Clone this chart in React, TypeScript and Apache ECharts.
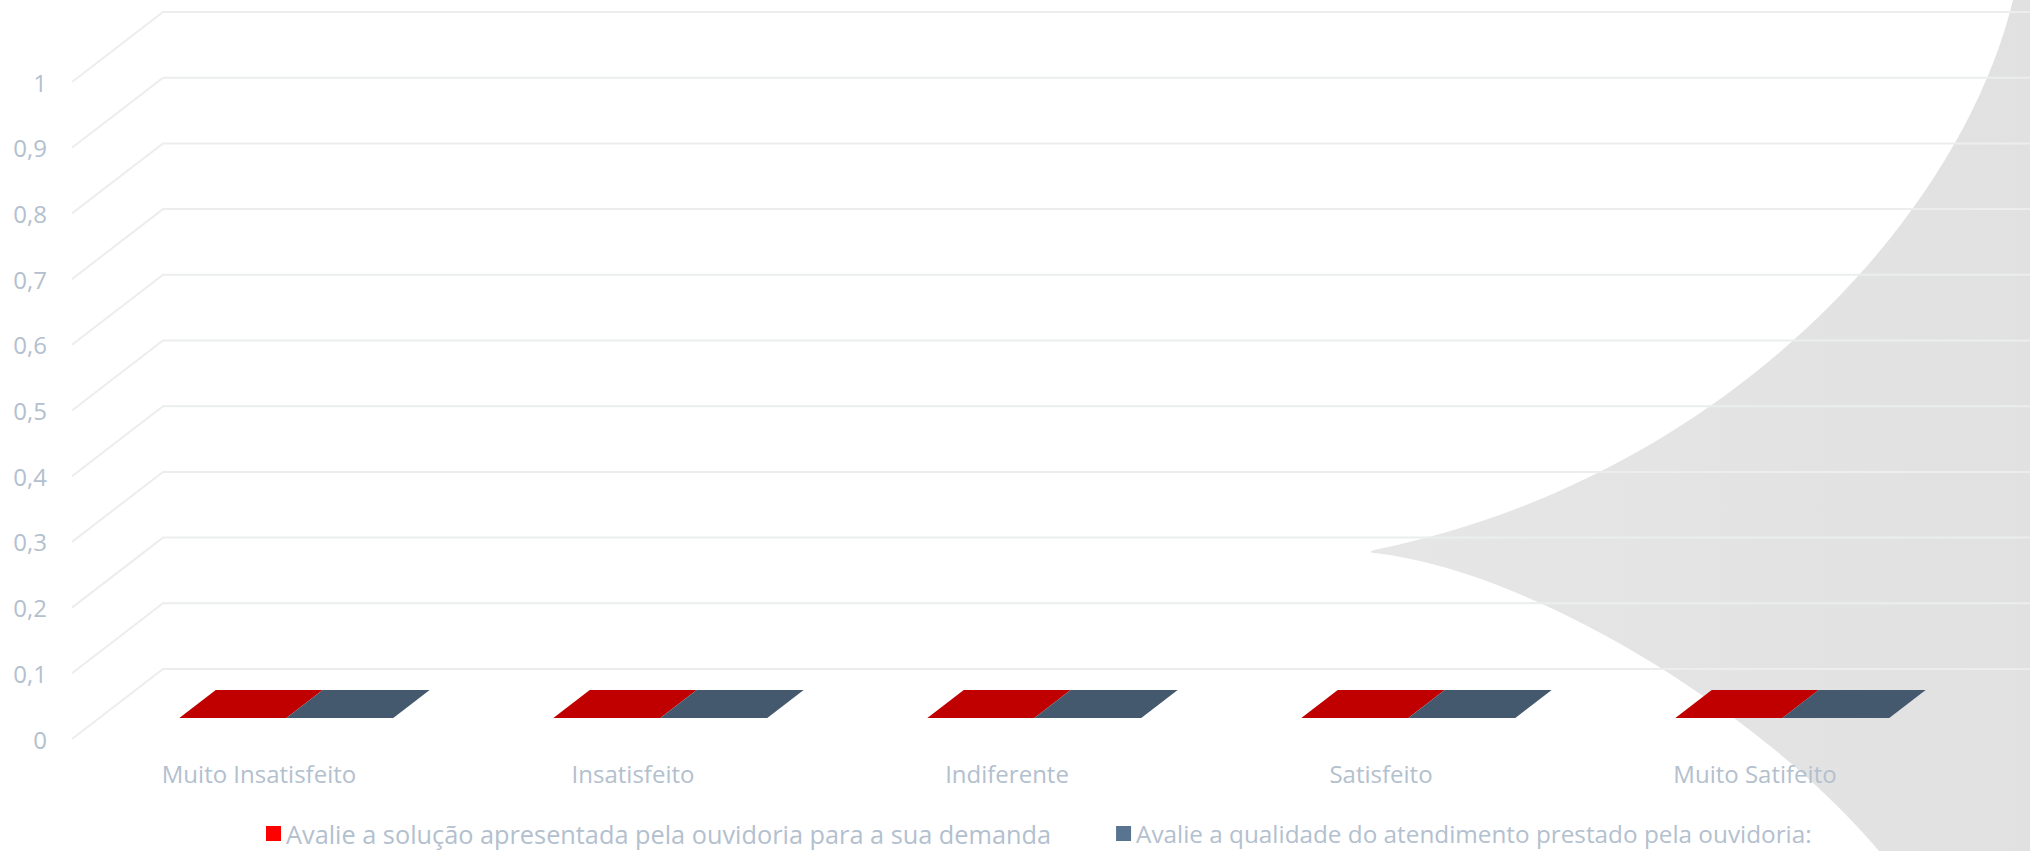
import React, { useEffect, useRef } from "react";
import * as echarts from "echarts";

// ---- data ----
const categories = ["Muito Insatisfeito", "Insatisfeito", "Indiferente", "Satisfeito", "Muito Satifeito"];
const seriesNames = [
  "Avalie a solução apresentada pela ouvidoria para a sua demanda",
  "Avalie a qualidade do atendimento prestado pela ouvidoria:",
];
const solucaoValues = [0, 0, 0, 0, 0];
const qualidadeValues = [0, 0, 0, 0, 0];
const yTicks = [0, 0.1, 0.2, 0.3, 0.4, 0.5, 0.6, 0.7, 0.8, 0.9, 1];

// ---- styling / layout ----
const FONT = "Open Sans";
const TEXT_COLOR = "#B3C0CE";
const GRID_COLOR = "#ECEDEE";
const DX = 91; // depth offset (3D look)
const DY = -70;
const D0 = 0.3;
const D1 = 0.7;
const BAR_FRAC = 0.286;
const BAR_COLORS = ["#C00000", "#44596D"];
const SIDE_COLORS = ["#900000", "#33434F"];
const LEGEND_COLORS = ["#FF0000", "#587490"];
const LEGEND_FONT_SIZES = [25.3, 24.3];

const shapePath =
  "M2013,0 C1960,220 1720,480 1374,550 C1370,551 1370,553 1374,553 C1530,570 1760,710 1879,851 L2030,851 L2030,0 Z";
echarts.graphic.registerShape("decoShape", (echarts.graphic as any).extendPath(shapePath, {}));

function makeBarRender(idx: number) {
  return (params: any, api: any) => {
    const cat = api.value(0);
    const val = api.value(1);
    const base = api.coord([cat, 0]);
    const top = api.coord([cat, val]);
    const band = api.size([1, 0])[0];
    const w = band * BAR_FRAC;
    const xL = base[0] + (idx === 0 ? -w : 0);
    const xR = xL + w;
    const yB = base[1];
    const yT = top[1];
    const p = (x: number, y: number, d: number) => [x + d * DX, y + d * DY];
    return {
      type: "group",
      children: [
        {
          type: "polygon",
          shape: { points: [p(xL, yT, D0), p(xR, yT, D0), p(xR, yB, D0), p(xL, yB, D0)] },
          style: { fill: BAR_COLORS[idx] },
        },
        {
          type: "polygon",
          shape: { points: [p(xR, yT, D0), p(xR, yT, D1), p(xR, yB, D1), p(xR, yB, D0)] },
          style: { fill: SIDE_COLORS[idx] },
        },
        {
          type: "polygon",
          shape: { points: [p(xL, yT, D0), p(xR, yT, D0), p(xR, yT, D1), p(xL, yT, D1)] },
          style: { fill: BAR_COLORS[idx] },
        },
      ],
    };
  };
}

export default function App() {
  const ref = useRef<HTMLDivElement>(null);
  useEffect(() => {
    document.body.style.margin = "0";
    const chart = echarts.init(ref.current!, null, { renderer: "svg" });
    const option: any = {
      animation: false,
      backgroundColor: "#FFFFFF",
      graphic: [
        {
          type: "decoShape",
          x: 0,
          y: 0,
          z: -10,
          silent: true,
          style: {
            fill: new echarts.graphic.LinearGradient(0, 0, 1, 0, [
              { offset: 0, color: "#E6E6E6" },
              { offset: 1, color: "#E1E1E1" },
            ]),
          },
        },
      ],
      grid: { left: 72, top: 82, width: 1870, height: 657 },
      legend: {
        data: seriesNames.map((n, i) => ({
          name: n,
          itemStyle: { color: LEGEND_COLORS[i] },
          textStyle: { fontSize: LEGEND_FONT_SIZES[i] },
        })),
        left: 261,
        top: 816,
        icon: "rect",
        itemWidth: 15,
        itemHeight: 15,
        itemGap: 65,
        textStyle: { color: TEXT_COLOR, fontSize: 24, fontFamily: FONT },
      },
      xAxis: {
        type: "category",
        data: categories,
        axisLine: { show: false },
        axisTick: { show: false },
        axisLabel: { color: TEXT_COLOR, fontSize: 24, fontFamily: FONT, margin: 22 },
        splitLine: { show: false },
      },
      yAxis: {
        type: "value",
        min: 0,
        max: 1,
        interval: 0.1,
        axisLine: { show: false },
        axisTick: { show: false },
        splitLine: { show: false },
        axisLabel: {
          color: TEXT_COLOR,
          fontSize: 24,
          fontFamily: FONT,
          margin: 25,
          formatter: (v: number) => String(Math.round(v * 10) / 10).replace(".", ","),
        },
      },
      series: [
        {
          type: "custom",
          name: "walls",
          silent: true,
          clip: false,
          z: 1,
          data: yTicks.map((v) => [0, v]),
          renderItem: (params: any, api: any) => {
            const v = api.value(1);
            const pt = api.coord([0, v]);
            const band = api.size([1, 0])[0];
            const x0 = pt[0] - band / 2;
            const y0 = pt[1];
            const xEnd = params.coordSys.x + params.coordSys.width + DX;
            return {
              type: "polyline",
              shape: { points: [[x0, y0], [x0 + DX, y0 + DY], [xEnd, y0 + DY]] },
              style: { stroke: GRID_COLOR, lineWidth: 2, fill: null },
            };
          },
        },
        {
          type: "custom",
          name: seriesNames[0],
          clip: false,
          z: 3,
          itemStyle: { color: LEGEND_COLORS[0] },
          data: categories.map((_, i) => [i, solucaoValues[i]]),
          renderItem: makeBarRender(0),
        },
        {
          type: "custom",
          name: seriesNames[1],
          clip: false,
          z: 3,
          itemStyle: { color: LEGEND_COLORS[1] },
          data: categories.map((_, i) => [i, qualidadeValues[i]]),
          renderItem: makeBarRender(1),
        },
      ],
    };
    chart.setOption(option);
    return () => chart.dispose();
  }, []);
  return <div ref={ref} style={{ width: 2030, height: 851 }} />;
}
